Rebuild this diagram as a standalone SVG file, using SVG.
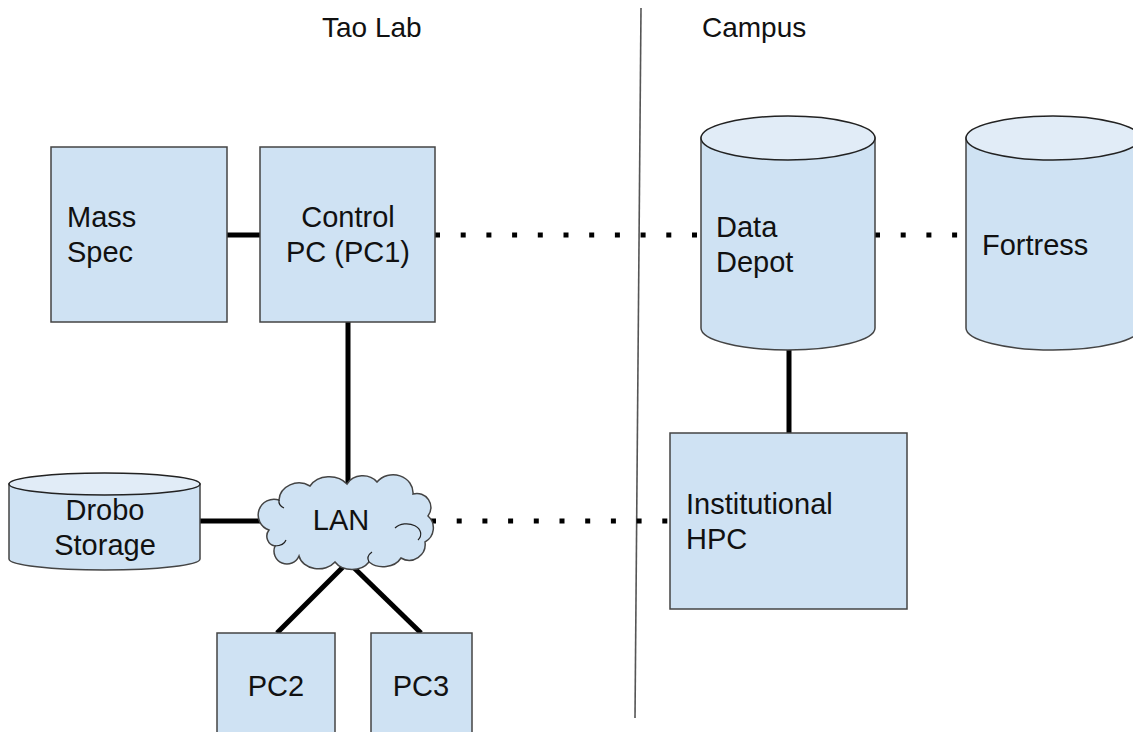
<svg xmlns="http://www.w3.org/2000/svg" width="1133" height="732" viewBox="0 0 1133 732">
  <defs>
    <style>
      .box { fill: #cfe2f3; stroke: #444; stroke-width: 1.5; }
      .cap { fill: #e1ecf7; stroke: #222; stroke-width: 1.5; }
      .lbl { font-family: "Liberation Sans", Arial, sans-serif; font-size: 29px; fill: #111; }
      .ttl { font-family: "Liberation Sans", Arial, sans-serif; font-size: 28px; fill: #111; }
      .solid { fill: none; stroke: #000; stroke-width: 5; }
      .dotted { fill: none; stroke: #000; stroke-width: 5; stroke-dasharray: 5 20.7; }
      .divider { fill: none; stroke: #555; stroke-width: 1.6; }
    </style>
  </defs>

  <rect width="1133" height="732" fill="#fff"/>

  <!-- section headings and divider -->
  <g id="headings">
    <text class="ttl" x="322" y="37">Tao Lab</text>
    <text class="ttl" x="702" y="37">Campus</text>
    <line class="divider" x1="641" y1="8" x2="635" y2="718"/>
  </g>

  <!-- connectors -->
  <g id="connectors">
    <line class="solid" x1="227" y1="235" x2="260" y2="235"/>
    <line class="solid" x1="348" y1="322" x2="348" y2="483"/>
    <line class="solid" x1="200" y1="521" x2="267" y2="521"/>
    <line class="solid" x1="348" y1="562" x2="277" y2="633"/>
    <line class="solid" x1="348" y1="562" x2="421" y2="633"/>
    <line class="solid" x1="789" y1="350" x2="789" y2="433"/>
    <line class="dotted" x1="435" y1="235" x2="701" y2="235"/>
    <line class="dotted" x1="875" y1="235" x2="966" y2="235"/>
    <line class="dotted" x1="431" y1="521" x2="670" y2="521"/>
  </g>

  <g id="mass-spec">
    <rect class="box" x="51" y="147" width="176" height="175"/>
    <text class="lbl" x="67" y="227">Mass</text>
    <text class="lbl" x="67" y="262">Spec</text>
  </g>

  <g id="control-pc">
    <rect class="box" x="260" y="147" width="175" height="175"/>
    <text class="lbl" x="348" y="227" text-anchor="middle">Control</text>
    <text class="lbl" x="348" y="262" text-anchor="middle">PC (PC1)</text>
  </g>

  <g id="drobo">
    <path class="box" d="M9,484 L9,559 A95.5,11 0 0 0 200,559 L200,484 Z"/>
    <ellipse class="cap" cx="104.5" cy="484" rx="95.5" ry="11"/>
    <text class="lbl" x="105" y="520" text-anchor="middle">Drobo</text>
    <text class="lbl" x="105" y="555" text-anchor="middle">Storage</text>
  </g>

  <g id="lan">
    <path class="box" d="M269,530
      A12,12 0 0 1 279,500
      A20,18 0 0 1 310,486
      A22,18 0 0 1 347,484
      A18,16 0 0 1 377,482
      A20,18 0 0 1 413,494
      A14,14 0 0 1 428,516
      A16,16 0 0 1 425,542
      A16,16 0 0 1 401,558
      A20,16 0 0 1 369,562
      A20,16 0 0 1 335,562
      A20,16 0 0 1 299,556
      A12,12 0 0 1 275,546
      A10,10 0 0 1 269,530 Z"/>
    <path fill="none" stroke="#222" stroke-width="1.2" d="M395,528 A14,10 0 0 1 418,540"/>
    <path fill="none" stroke="#222" stroke-width="1.2" d="M275,546 A12,8 0 0 0 286,540"/>
    <path fill="none" stroke="#222" stroke-width="1.2" d="M279,500 A10,8 0 0 0 284,508"/>
    <path fill="none" stroke="#222" stroke-width="1.2" d="M369,562 A16,10 0 0 1 372,552"/>
    <text class="lbl" x="341" y="530" text-anchor="middle">LAN</text>
  </g>

  <g id="pc2">
    <rect class="box" x="217" y="633" width="118" height="110"/>
    <text class="lbl" x="276" y="696" text-anchor="middle">PC2</text>
  </g>

  <g id="pc3">
    <rect class="box" x="371" y="633" width="101" height="110"/>
    <text class="lbl" x="421" y="696" text-anchor="middle">PC3</text>
  </g>

  <g id="data-depot">
    <path class="box" d="M701,138 L701,328 A87,22 0 0 0 875,328 L875,138 Z"/>
    <ellipse class="cap" cx="788" cy="138" rx="87" ry="22"/>
    <text class="lbl" x="716" y="237">Data</text>
    <text class="lbl" x="716" y="272">Depot</text>
  </g>

  <g id="fortress">
    <path class="box" d="M966,138 L966,328 A87,22 0 0 0 1140,328 L1140,138 Z"/>
    <ellipse class="cap" cx="1053" cy="138" rx="87" ry="22"/>
    <text class="lbl" x="982" y="255">Fortress</text>
  </g>

  <g id="hpc">
    <rect class="box" x="670" y="433" width="237" height="176"/>
    <text class="lbl" x="686" y="514">Institutional</text>
    <text class="lbl" x="686" y="549">HPC</text>
  </g>
</svg>
